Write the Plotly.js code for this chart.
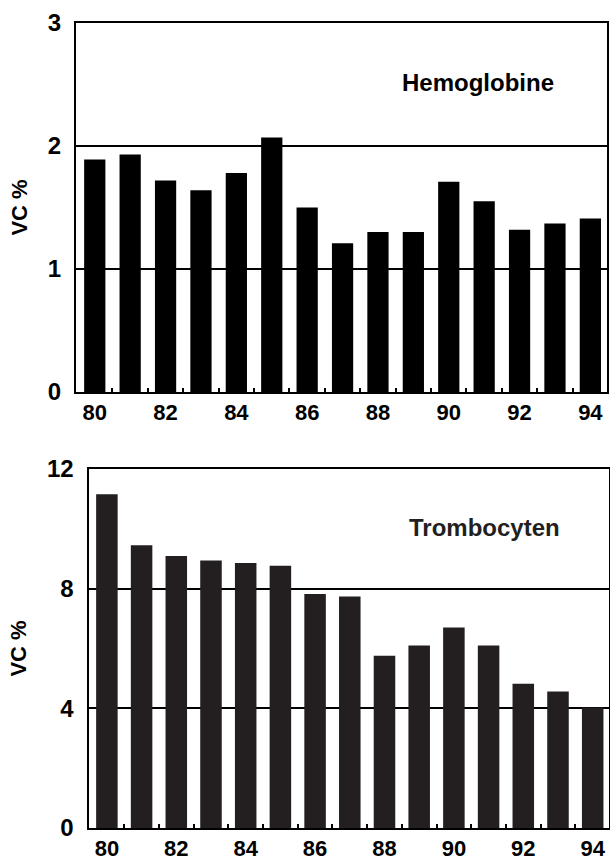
<!DOCTYPE html>
<html>
<head>
<meta charset="utf-8">
<script src="https://cdn.plot.ly/plotly-3.0.1.min.js"></script>
<style>
  html, body { margin: 0; padding: 0; background: #fff; }
  #chart { width: 610px; height: 860px; }
</style>
</head>
<body>
<div id="chart"></div>
<script>
// Years (19xx)
const years = [80, 81, 82, 83, 84, 85, 86, 87, 88, 89, 90, 91, 92, 93, 94];
// VC % Hemoglobine
const hemoglobine = [1.89, 1.93, 1.72, 1.64, 1.78, 2.07, 1.50, 1.21, 1.30, 1.30, 1.71, 1.55, 1.32, 1.37, 1.41];
// VC % Trombocyten
const trombocyten = [11.16, 9.45, 9.09, 8.94, 8.86, 8.77, 7.82, 7.74, 5.76, 6.10, 6.70, 6.10, 4.82, 4.56, 4.03];

const xTickVals = [80, 82, 84, 86, 88, 90, 92, 94];
const xTickText = ['80', '82', '84', '86', '88', '90', '92', '94'];
const xMinorVals = [80.5, 81.5, 82.5, 83.5, 84.5, 85.5, 86.5, 87.5, 88.5, 89.5, 90.5, 91.5, 92.5, 93.5];
const yTopTicks = [0, 1, 2, 3];
const yBottomTicks = [0, 4, 8, 12];
const panelLabels = ['Hemoglobine', 'Trombocyten'];
const yTitle = 'VC %';

const W = 610, H = 860;
const fontFam = '"Liberation Sans", Arial, Helvetica, sans-serif';

const traces = [
  {
    type: 'bar', x: years, y: hemoglobine, xaxis: 'x', yaxis: 'y',
    width: 0.6, marker: { color: '#000000', line: { width: 0 } },
    hoverinfo: 'x+y'
  },
  {
    type: 'bar', x: years, y: trombocyten, xaxis: 'x2', yaxis: 'y2',
    width: 0.62, marker: { color: '#231f20', line: { width: 0 } },
    hoverinfo: 'x+y'
  }
];

function xAxis(domain, anchor) {
  return {
    domain: domain, anchor: anchor,
    range: [79.47, 94.47],
    tickvals: xTickVals, ticktext: xTickText,
    ticks: '', showgrid: false, zeroline: false,
    showline: true, linecolor: '#000', linewidth: 2, mirror: true,
    tickfont: { family: fontFam, size: 22, color: '#000', weight: 'bold' },
    ticklabelstandoff: 0,
    minor: { tickvals: xMinorVals, ticks: 'inside', ticklen: 4, tickcolor: '#000', tickwidth: 2, showgrid: false },
    fixedrange: true
  };
}

function yAxis(domain, anchor, range, ticks) {
  return {
    domain: domain, anchor: anchor,
    range: range, tickvals: ticks, ticktext: ticks.map(String),
    ticks: '', showgrid: true, gridcolor: '#000', gridwidth: 2,
    zeroline: false,
    showline: true, linecolor: '#000', linewidth: 2, mirror: true,
    tickfont: { family: fontFam, size: 24, color: '#000', weight: 'bold' },
    ticklabelstandoff: 8,
    title: { text: yTitle, font: { family: fontFam, size: 22, color: '#000', weight: 'bold' }, standoff: 14 },
    fixedrange: true
  };
}

const layout = {
  width: W, height: H,
  margin: { l: 0, r: 0, t: 0, b: 0 },
  paper_bgcolor: '#fff', plot_bgcolor: '#fff',
  showlegend: false,
  bargap: 0.4,
  xaxis: xAxis([76 / W, 607 / W], 'y'),
  yaxis: yAxis([1 - 392 / H, 1 - 23 / H], 'x', [0, 3], yTopTicks),
  xaxis2: xAxis([88.5 / W, 609 / W], 'y2'),
  yaxis2: yAxis([1 - 828 / H, 1 - 469 / H], 'x2', [0, 12], yBottomTicks),
  annotations: [
    {
      text: panelLabels[0], xref: 'paper', yref: 'paper',
      x: 478 / W, y: 1 - 82 / H, xanchor: 'center', yanchor: 'middle',
      showarrow: false,
      font: { family: fontFam, size: 24, color: '#000', weight: 'bold' }
    },
    {
      text: panelLabels[1], xref: 'paper', yref: 'paper',
      x: 484 / W, y: 1 - 527 / H, xanchor: 'center', yanchor: 'middle',
      showarrow: false,
      font: { family: fontFam, size: 24, color: '#231f20', weight: 'bold' }
    }
  ]
};

Plotly.newPlot('chart', traces, layout, { staticPlot: true, displayModeBar: false });
</script>
</body>
</html>
